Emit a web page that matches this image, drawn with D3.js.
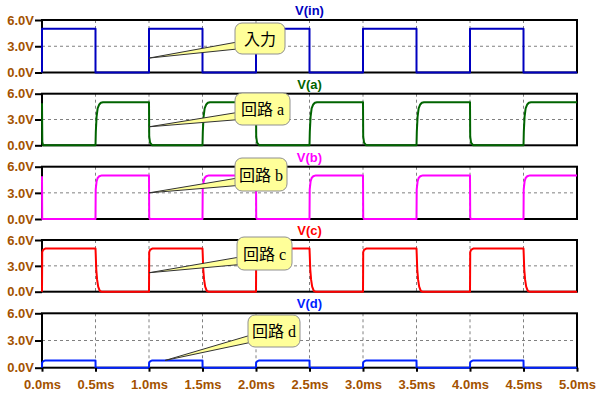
<!DOCTYPE html>
<html>
<head>
<meta charset="utf-8">
<script src="https://cdn.jsdelivr.net/npm/d3@7"></script>
<style>
  body { margin: 0; background: #fff; }
  svg { display: block; }
</style>
</head>
<body>
<svg id="chart"></svg>
<script>
const width = 600;
const height = 396;

// series names and colours
const names = ['V(in)', 'V(a)', 'V(b)', 'V(c)', 'V(d)'];
const colors = ['#0000c0', '#006400', '#ff00ff', '#ff0000', '#0022ff'];

// [time ms, volts]
const vin = [
  [0,0],[0,5],[0.5,5],[0.5,0],[1,0],[1,5],[1.5,5],[1.5,0],[2,0],[2,5],[2.5,5],[2.5,0],
  [3,0],[3,5],[3.5,5],[3.5,0],[4,0],[4,5],[4.5,5],[4.5,0],[5,0]
];
const va = [
  [0,4.9],[0.003,0.4],[0.01,0],
  [0.5,0],[0.503,1.6],[0.51,3.3],[0.52,4.3],[0.535,4.75],[0.55,4.95],[0.57,5],
  [1,5],[1.002,1],[1.01,0.3],[1.03,0],
  [1.5,0],[1.503,1.6],[1.51,3.3],[1.52,4.3],[1.535,4.75],[1.55,4.95],[1.57,5],
  [2,5],[2.002,1],[2.01,0.3],[2.03,0],
  [2.5,0],[2.503,1.6],[2.51,3.3],[2.52,4.3],[2.535,4.75],[2.55,4.95],[2.57,5],
  [3,5],[3.002,1],[3.01,0.3],[3.03,0],
  [3.5,0],[3.503,1.6],[3.51,3.3],[3.52,4.3],[3.535,4.75],[3.55,4.95],[3.57,5],
  [4,5],[4.002,1],[4.01,0.3],[4.03,0],
  [4.5,0],[4.503,1.6],[4.51,3.3],[4.52,4.3],[4.535,4.75],[4.55,4.95],[4.57,5],
  [5,5]
];
const vb = [
  [0,4.9],[0.002,0],
  [0.5,0],[0.502,3.4],[0.51,4.3],[0.52,4.7],[0.535,4.9],[0.56,5],
  [1,5],[1.002,0.2],[1.008,0],
  [1.5,0],[1.502,3.4],[1.51,4.3],[1.52,4.7],[1.535,4.9],[1.56,5],
  [2,5],[2.002,0.2],[2.008,0],
  [2.5,0],[2.502,3.4],[2.51,4.3],[2.52,4.7],[2.535,4.9],[2.56,5],
  [3,5],[3.002,0.2],[3.008,0],
  [3.5,0],[3.502,3.4],[3.51,4.3],[3.52,4.7],[3.535,4.9],[3.56,5],
  [4,5],[4.002,0.2],[4.008,0],
  [4.5,0],[4.502,3.4],[4.51,4.3],[4.52,4.7],[4.535,4.9],[4.56,5],
  [5,5]
];
const vc = [
  [0,0],[0.002,4.6],[0.01,4.85],[0.03,5],
  [0.5,5],[0.502,4.4],[0.507,2.6],[0.515,1.4],[0.525,0.6],[0.54,0.1],[0.555,0],
  [1,0],[1.002,4.6],[1.01,4.85],[1.03,5],
  [1.5,5],[1.502,4.4],[1.507,2.6],[1.515,1.4],[1.525,0.6],[1.54,0.1],[1.555,0],
  [2,0],[2.002,4.6],[2.01,4.85],[2.03,5],
  [2.5,5],[2.502,4.4],[2.507,2.6],[2.515,1.4],[2.525,0.6],[2.54,0.1],[2.555,0],
  [3,0],[3.002,4.6],[3.01,4.85],[3.03,5],
  [3.5,5],[3.502,4.4],[3.507,2.6],[3.515,1.4],[3.525,0.6],[3.54,0.1],[3.555,0],
  [4,0],[4.002,4.6],[4.01,4.85],[4.03,5],
  [4.5,5],[4.502,4.4],[4.507,2.6],[4.515,1.4],[4.525,0.6],[4.54,0.1],[4.555,0],
  [5,0]
];
const vd = [
  [0,0],[0.001,0.55],[0.01,0.7],[0.03,0.8],[0.5,0.8],[0.501,0],
  [1,0],[1.001,0.55],[1.01,0.7],[1.03,0.8],[1.5,0.8],[1.501,0],
  [2,0],[2.001,0.55],[2.01,0.7],[2.03,0.8],[2.5,0.8],[2.501,0],
  [3,0],[3.001,0.55],[3.01,0.7],[3.03,0.8],[3.5,0.8],[3.501,0],
  [4,0],[4.001,0.55],[4.01,0.7],[4.03,0.8],[4.5,0.8],[4.501,0],
  [5,0]
];
const series = [vin, va, vb, vc, vd];

const yTicks = [0, 3, 6];
const xTicks = [0, 0.5, 1, 1.5, 2, 2.5, 3, 3.5, 4, 4.5, 5];

// callouts: text, tip time (ms), tip volts
const noteText = ['入力', '回路 a', '回路 b', '回路 c', '回路 d'];
const noteTip = [[1.0, 1.65], [1.0, 2.15], [1.0, 3.0], [1.0, 2.2], [1.15, 0.8]];

// layout
const panelTop = [20, 93.7, 166.7, 240, 313.3];
const panelBottom = [72.5, 145.3, 219, 291.7, 367.7];
const noteBox = [[235, 23, 50, 31], [235, 93, 55, 32], [235, 158, 52, 33], [237, 237, 55, 33], [248, 315, 52, 32]];
const labelColor = '#a35200';

const svg = d3.select('#chart').attr('width', width).attr('height', height);

const x = d3.scaleLinear().domain([0, 5]).range([42, 577]);

const line = d3.line();

series.forEach((data, i) => {
  const y = d3.scaleLinear().domain([0, 6]).range([panelBottom[i], panelTop[i]]);
  const g = svg.append('g');

  // grid
  g.selectAll('.vgrid')
    .data(xTicks.slice(1, -1))
    .enter().append('line')
    .attr('x1', d => x(d)).attr('x2', d => x(d))
    .attr('y1', y(6)).attr('y2', y(0))
    .attr('stroke', '#808080').attr('stroke-dasharray', '3,3');
  g.append('line')
    .attr('x1', x(0)).attr('x2', x(5))
    .attr('y1', y(3)).attr('y2', y(3))
    .attr('stroke', '#808080').attr('stroke-dasharray', '3,3');

  // frame
  g.append('rect')
    .attr('x', x(0)).attr('y', y(6))
    .attr('width', x(5) - x(0)).attr('height', y(0) - y(6))
    .attr('fill', 'none').attr('stroke', '#000').attr('stroke-width', 2);

  // y axis
  const yAxis = g.append('g')
    .attr('transform', `translate(${x(0)},0)`)
    .call(d3.axisLeft(y).tickValues(yTicks).tickSize(7).tickPadding(1)
      .tickFormat(d => d3.format('.1f')(d) + 'V'));
  yAxis.select('.domain').remove();
  yAxis.selectAll('line').attr('stroke', '#000').attr('stroke-width', 2);
  yAxis.selectAll('text')
    .attr('fill', labelColor)
    .style('font', 'bold 13px "Liberation Sans", Arial, sans-serif');

  // title
  g.append('text')
    .attr('x', (x(0) + x(5)) / 2)
    .attr('y', y(6) - 5)
    .attr('text-anchor', 'middle')
    .attr('fill', colors[i])
    .style('font', 'bold 13px "Liberation Sans", Arial, sans-serif')
    .text(names[i]);

  // trace
  g.append('path')
    .datum(data)
    .attr('fill', 'none')
    .attr('stroke', colors[i])
    .attr('stroke-width', 2)
    .attr('stroke-linejoin', 'round')
    .attr('d', line.x(d => x(d[0])).y(d => y(d[1])));

  // x axis on last panel
  if (i === series.length - 1) {
    const xAxis = svg.append('g')
      .attr('transform', `translate(0,${y(0)})`)
      .call(d3.axisBottom(x).tickValues(xTicks).tickSize(4).tickPadding(8)
        .tickFormat(d => d3.format('.1f')(d) + 'ms'));
    xAxis.select('.domain').remove();
    xAxis.selectAll('line').attr('stroke', '#000').attr('stroke-width', 2);
    xAxis.selectAll('text')
      .attr('fill', labelColor)
      .style('font', 'bold 13px "Liberation Sans", Arial, sans-serif');
  }

  // callout
  const [bx, by, bw, bh] = noteBox[i];
  const tx = x(noteTip[i][0]);
  const ty = y(noteTip[i][1]);
  const note = svg.append('g');
  note.append('polygon')
    .attr('points', [[tx, ty], [bx + 8, by + bh * 0.58], [bx + 8, by + bh * 0.82]].map(p => p.join(',')).join(' '))
    .attr('fill', '#ffff99')
    .attr('stroke', '#333')
    .attr('stroke-width', 1);
  note.append('rect')
    .attr('x', bx).attr('y', by)
    .attr('width', bw).attr('height', bh)
    .attr('rx', 7)
    .attr('fill', '#ffff99')
    .attr('stroke', '#909090');
  note.append('text')
    .attr('x', bx + bw / 2)
    .attr('y', by + bh / 2 + 6)
    .attr('text-anchor', 'middle')
    .attr('fill', '#000')
    .style('font', '16px "Liberation Serif", "Noto Sans CJK JP", serif')
    .text(noteText[i]);
});
</script>
</body>
</html>
